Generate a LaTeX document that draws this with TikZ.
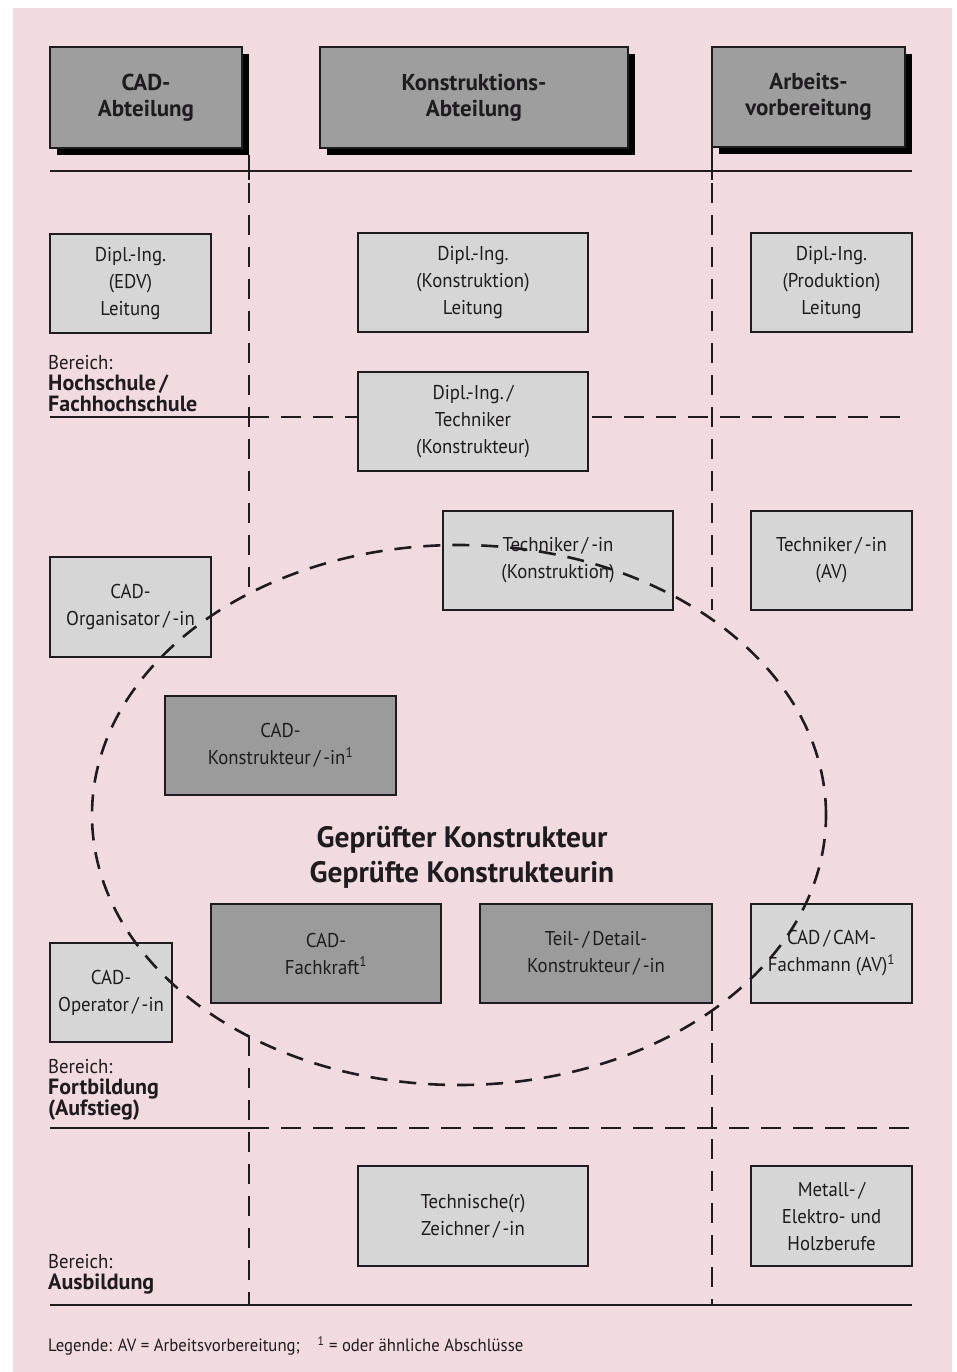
\documentclass[tikz,border=0pt]{standalone}
\usepackage{fontspec}
\setmainfont{PT Sans}
\newfontfamily\regfont{PT Sans}[FakeStretch=0.94]
\newcommand{\slsh}{\kern3pt/\kern3pt}
\usetikzlibrary{shadows}
\definecolor{pinkbg}{RGB}{242,218,225}
\definecolor{lightbox}{RGB}{215,214,214}
\definecolor{darkbox}{RGB}{155,155,155}
\definecolor{headbox}{RGB}{158,158,158}
\definecolor{ink}{RGB}{30,28,30}
\begin{document}
\begin{tikzpicture}[x=1pt,y=-1pt,
  every node/.style={text=ink},
  sz/.style 2 args={minimum width=#1pt, minimum height=#2pt},
  lbox/.style={draw=ink, line width=1.3pt, fill=lightbox, align=center, inner sep=0pt, font=\regfont\fontsize{20}{27}\selectfont},
  dbox/.style={lbox, fill=darkbox},
  hbox/.style={draw=ink, line width=1.3pt, fill=headbox, align=center, inner sep=0pt, font=\bfseries\fontsize{23}{26}\selectfont, drop shadow={shadow xshift=7pt, shadow yshift=-7pt, fill=black, opacity=1}},
  grid/.style={draw=ink, line width=1.3pt},
  gdash/.style={grid, dash pattern=on 20pt off 12pt},
  edash/.style={draw=ink, line width=2.6pt, dash pattern=on 17pt off 12pt},
  blabel/.style={align=left, anchor=base west, inner sep=0pt, font=\fontsize{22}{21}\selectfont}
]
\useasboundingbox (0,0) rectangle (957,1372);
\fill[pinkbg] (13,8) rectangle (952,1372);

% grid lines
\draw[grid] (50,171) -- (912,171);
\draw[grid] (50,417) -- (249,417);
\draw[gdash] (249,417) -- (358,417);
\draw[gdash] (592,417) -- (912,417);
\draw[grid] (50,1128) -- (249,1128);
\draw[gdash] (249,1128) -- (912,1128);
\draw[grid] (50,1305) -- (912,1305);
\draw[grid] (249,155) -- (249,180);
\draw[gdash] (249,183) -- (249,594);
\draw[gdash] (249,1036) -- (249,1305);
\draw[grid] (712,147) -- (712,180);
\draw[gdash] (712,183) -- (712,610);
\draw[gdash] (712,1011) -- (712,1305);

% headers
\node[hbox, sz={192}{101}] (h1) at (146,97.5) {CAD-\\Abteilung};
\node[hbox, sz={308}{101}] (h2) at (474,97.5) {Konstruktions-\\Abteilung};
\node[hbox, sz={193}{100}] (h3) at (808.5,97) {Arbeits-\\vorbereitung};

% boxes
\node[lbox, sz={161}{99}] (b1) at (130.5,283.5) {Dipl.-Ing.\\(EDV)\\Leitung};
\node[lbox, sz={230}{99}] (b2) at (473,282.5) {Dipl.-Ing.\\(Konstruktion)\\Leitung};
\node[lbox, sz={161}{99}] (b3) at (831.5,282.5) {Dipl.-Ing.\\(Produktion)\\Leitung};
\node[lbox, sz={230}{99}] (b4) at (473,421.5) {Dipl.-Ing.\kern3pt/\\Techniker\\(Konstrukteur)};
\node[lbox, sz={230}{99}] (b5) at (558,560.5) {Techniker\slsh-in\\(Konstruktion)};
\node[lbox, sz={161}{99}] (b6) at (831.5,560.5) {Techniker\slsh-in\\(AV)};
\node[lbox, sz={161}{100}] (b7) at (130.5,607) {CAD-\\Organisator\slsh-in};
\node[dbox, sz={231}{99}] (b8) at (280.5,745.5) {CAD-\\Konstrukteur\slsh-in\textsuperscript{1}};
\node[dbox, sz={230}{99}] (b9) at (326,953.5) {CAD-\\Fachkraft\textsuperscript{1}};
\node[dbox, sz={232}{99}] (b10) at (596,953.5) {Teil-\slsh Detail-\\Konstrukteur\slsh-in};
\node[lbox, sz={161}{99}] (b11) at (831.5,953.5) {CAD\slsh CAM-\\Fachmann (AV)\textsuperscript{1}};
\node[lbox, sz={122}{99}] (b12) at (111,992.5) {CAD-\\Operator\slsh-in};
\node[lbox, sz={230}{100}] (b13) at (473,1216) {Technische(r)\\Zeichner\slsh-in};
\node[lbox, sz={161}{100}] (b14) at (831.5,1216) {Metall-\kern3pt/\\Elektro- und\\Holzberufe};

% centre title
\node[align=center, font=\bfseries\fontsize{29.5}{35}\selectfont] (title) at (462,857) {Geprüfter Konstrukteur\\Geprüfte Konstrukteurin};

% area labels
\node[blabel] (r1) at (48,411) {{\regfont\fontsize{20}{21}\selectfont Bereich:}\\\textbf{Hochschule\kern3pt/}\\\textbf{Fachhochschule}};
\node[blabel] (r2) at (48,1115) {{\regfont\fontsize{20}{21}\selectfont Bereich:}\\\textbf{Fortbildung}\\\textbf{(Aufstieg)}};
\node[blabel] (r3) at (48,1289) {{\regfont\fontsize{20}{21}\selectfont Bereich:}\\\textbf{Ausbildung}};

% legend
\node[anchor=west, inner sep=0pt, font=\regfont\fontsize{17.8}{18}\selectfont] (leg) at (48,1346) {Legende: AV = Arbeitsvorbereitung;\quad\textsuperscript{1} = oder ähnliche Abschlüsse};

% dashed ellipse
\draw[edash] (459,815) ellipse [x radius=367pt, y radius=270pt];
\end{tikzpicture}
\end{document}
